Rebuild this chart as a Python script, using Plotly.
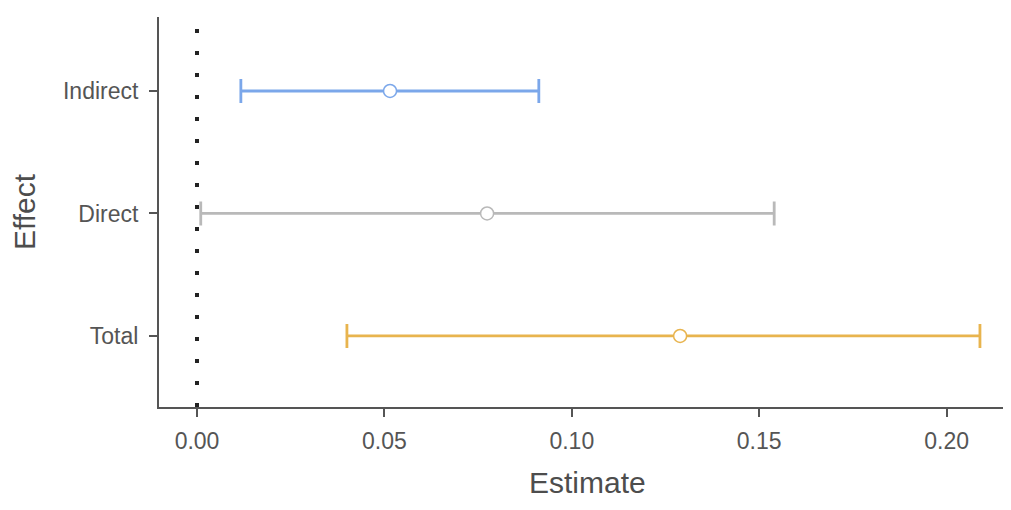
import plotly.graph_objects as go

effects = ["Indirect", "Direct", "Total"]
estimates = [0.0515, 0.0774, 0.1289]
lower = [0.0117, 0.0010, 0.0400]
upper = [0.0912, 0.1540, 0.2089]
colors = ["#7ba7ea", "#b9b9b9", "#e8b44e"]
x_ticks = [0.00, 0.05, 0.10, 0.15, 0.20]
x_tick_labels = ["0.00", "0.05", "0.10", "0.15", "0.20"]
reference_value = 0.0

fig = go.Figure()

for name, est, lo, hi, col in zip(effects, estimates, lower, upper, colors):
    fig.add_trace(go.Scatter(
        x=[est], y=[name], mode="markers",
        marker=dict(symbol="circle", size=13, color="white",
                    line=dict(color=col, width=1.5)),
        error_x=dict(type="data", symmetric=False,
                     array=[hi - est], arrayminus=[est - lo],
                     color=col, thickness=2.8, width=12),
        showlegend=False,
    ))

fig.add_shape(type="line", xref="x", yref="paper",
              x0=reference_value, x1=reference_value, y0=0, y1=1,
              line=dict(color="#222222", width=4, dash="4px,18px"),
              layer="below")

font_family = "Liberation Sans Narrow, Arial Narrow, Liberation Sans, Arial, sans-serif"

fig.add_annotation(text="Estimate", xref="paper", yref="paper",
                   x=0.508, y=0, xanchor="center", yanchor="bottom",
                   yshift=-94, showarrow=False,
                   font=dict(family=font_family, size=30, color="#4d4d4d"))

fig.update_layout(
    width=995, height=494,
    margin=dict(l=151, r=0, t=9, b=95, pad=0),
    paper_bgcolor="white", plot_bgcolor="white",
    font=dict(family=font_family, color="#4d4d4d"),
    xaxis=dict(
        range=[-0.01014, 0.21505],
        tickvals=x_ticks, ticktext=x_tick_labels,
        showgrid=False, zeroline=False, automargin=False,
        showline=True, linecolor="#555555", linewidth=2,
        ticks="outside", ticklen=8, tickwidth=2, tickcolor="#555555",
        tickfont=dict(size=23, color="#555555"),
        ticklabelstandoff=4,
    ),
    yaxis=dict(
        categoryorder="array", categoryarray=["Total", "Direct", "Indirect"],
        range=[-0.58, 2.604],
        showgrid=False, zeroline=False, automargin=False,
        showline=True, linecolor="#555555", linewidth=2,
        ticks="outside", ticklen=8, tickwidth=2, tickcolor="#555555",
        tickfont=dict(size=23, color="#555555"),
        ticklabelstandoff=6,
        title=dict(text="Effect", font=dict(size=30, color="#4d4d4d"), standoff=20),
    ),
)

fig.write_html("out.html")
